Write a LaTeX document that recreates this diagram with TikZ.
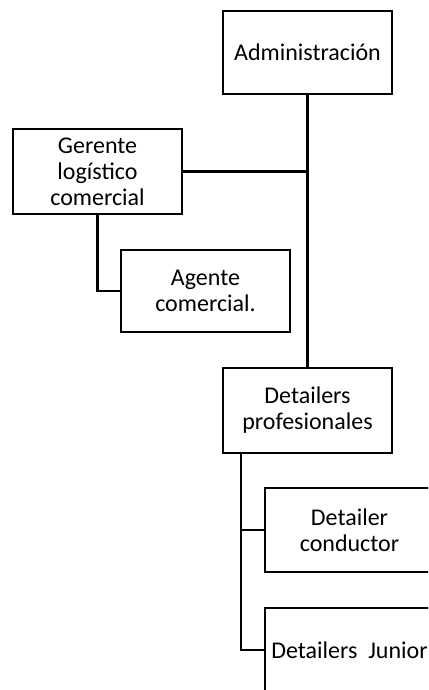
\documentclass[tikz,border=0pt]{standalone}
\usepackage{fontspec}
\setmainfont{Carlito}
\begin{document}
\begin{tikzpicture}[x=1pt,y=-1pt,
  orgbox/.style={draw=black,line width=2.6pt,fill=white,minimum width=169pt,
    align=center,inner sep=0pt,font=\fontsize{24}{26}\selectfont},
  link/.style={draw=black,line width=2.6pt}]
\useasboundingbox (0,0) rectangle (428,690);
\clip (0,0) rectangle (428,690);
\node[orgbox,minimum height=83pt] (admin) at (307.5,52.5) {Administración};
\node[orgbox,minimum height=85pt] (gerente) at (97.5,171.5) {Gerente\\logístico\\comercial};
\node[orgbox,minimum height=82pt] (agente) at (205.5,291) {Agente\\comercial.};
\node[orgbox,minimum height=85pt] (detailers) at (307.5,410.5) {Detailers\\profesionales};
\node[orgbox,minimum height=84pt] (conductor) at (349.5,530) {Detailer\\conductor};
\node[orgbox,minimum height=84pt] (junior) at (349.5,650) {Detailers\ \ Junior};
\coordinate (dtap) at ([xshift=-66.5pt]detailers.south);
\draw[link] (admin.south) -- (detailers.north);
\draw[link] (gerente.east) -- (gerente.east -| admin.south);
\draw[link] (gerente.south) |- (agente.west);
\draw[link] (dtap) |- (conductor.west);
\draw[link] (dtap) |- (junior.west);
\end{tikzpicture}
\end{document}
